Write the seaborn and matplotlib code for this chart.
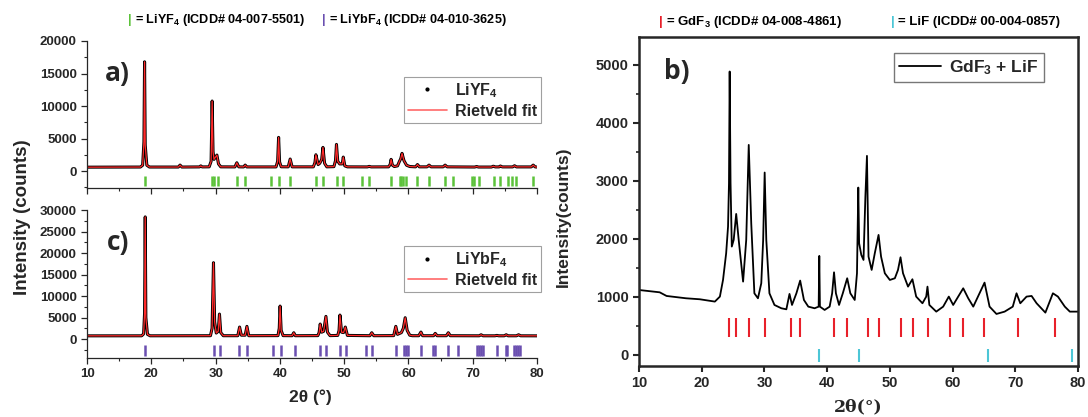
import numpy as np
import pandas as pd
import matplotlib
matplotlib.use("Agg")
import matplotlib.pyplot as plt
from matplotlib.lines import Line2D
from matplotlib.ticker import MultipleLocator
import seaborn as sns

# ---------------- data ----------------
# panel a) LiYF4 profile (2theta, counts)
liyf4_2theta = [10.0, 18.3, 18.65, 18.85, 18.95, 19.05, 19.3, 19.7, 24.2, 24.47, 24.75,
                27.5, 27.7, 27.9, 29.0, 29.3, 29.46, 29.6, 29.75, 30.2, 30.45, 30.8,
                33.0, 33.3, 33.6, 34.35, 34.6, 34.85, 39.4, 39.65, 39.8, 39.95, 40.2,
                41.3, 41.6, 41.9, 45.2, 45.45, 45.6, 45.95, 46.2, 46.5, 46.7, 46.95, 47.3,
                48.4, 48.65, 48.8, 49.0, 49.3, 49.7, 49.86, 50.1, 50.5, 53.6, 53.9, 54.2,
                56.9, 57.15, 57.3, 57.5, 57.8, 58.3, 58.6, 58.8, 59.0, 59.3, 59.7, 60.2,
                61.1, 61.4, 61.7, 62.9, 63.2, 63.5, 65.4, 65.7, 66.0, 70.3, 70.6, 70.9,
                72.9, 73.2, 73.5, 74.1, 74.3, 74.6, 76.2, 76.5, 76.8, 79.1, 79.4, 79.7, 80.0]
liyf4_counts = [600, 620, 900, 4500, 16800, 4000, 900, 620, 620, 920, 620,
                640, 800, 640, 650, 1500, 10770, 3000, 1800, 2460, 1100, 650,
                640, 1280, 650, 640, 920, 640, 640, 1500, 5180, 1400, 660,
                650, 1850, 650, 650, 1300, 2510, 1000, 1200, 1800, 3640, 1200, 650,
                680, 1600, 4100, 1500, 1100, 1100, 2150, 800, 650, 640, 720, 640,
                650, 1000, 1800, 900, 700, 800, 1500, 1900, 2720, 1600, 900, 700,
                650, 1000, 650, 650, 920, 650, 650, 920, 650, 620, 700, 620,
                620, 750, 640, 640, 780, 640, 640, 820, 640, 640, 920, 640, 620]

# panel c) LiYbF4 profile
liybf4_2theta = [10.0, 18.5, 18.8, 18.95, 19.05, 19.15, 19.4, 19.8,
                 29.2, 29.45, 29.67, 29.85, 30.1, 30.4, 30.6, 30.8, 31.2,
                 33.45, 33.73, 34.0, 34.6, 34.87, 35.15,
                 39.7, 39.9, 40.03, 40.2, 40.5, 41.9, 42.16, 42.4,
                 45.9, 46.1, 46.27, 46.5, 46.8, 47.16, 47.4, 47.8,
                 49.0, 49.2, 49.34, 49.6, 49.9, 50.18, 50.5, 54.0, 54.29, 54.6,
                 57.7, 58.03, 58.3, 58.9, 59.2, 59.49, 59.8, 60.2, 60.6,
                 61.6, 61.94, 62.2, 63.9, 64.17, 64.45, 65.9, 66.2, 66.5,
                 71.0, 71.3, 71.6, 73.45, 73.75, 74.05, 74.9, 75.2, 75.5,
                 76.8, 77.13, 77.45, 80.0]
liybf4_counts = [750, 760, 1200, 6000, 28400, 5000, 1100, 760,
                 780, 2500, 17750, 4000, 1400, 1800, 5810, 1500, 780,
                 780, 2790, 900, 900, 2950, 780,
                 800, 2500, 7670, 2000, 800, 780, 1470, 780,
                 800, 1500, 3490, 1600, 1800, 5270, 1600, 800,
                 850, 2000, 5580, 1600, 1500, 2790, 850, 780, 1470, 780,
                 800, 2950, 1100, 1500, 2500, 4960, 2000, 900, 780,
                 780, 1630, 780, 780, 1320, 780, 780, 1470, 780,
                 760, 1000, 760, 760, 850, 760, 760, 1000, 760,
                 760, 1000, 760, 750]

# panel b) GdF3 + LiF trace
gdf3_2theta = [10.0, 13.3, 14.4, 17.5, 19.7, 22.1, 22.9, 23.4, 23.9, 24.2, 24.35, 24.46,
               24.6, 24.8, 25.1, 25.5, 25.9, 26.6, 27.1, 27.5, 27.9, 28.4, 28.97,
               29.5, 29.8, 30.04, 30.3, 30.8, 31.6, 32.7, 33.5, 34.0, 34.4, 35.1,
               35.7, 36.3, 37.0, 38.0, 38.65, 38.75, 38.85, 39.6, 40.4, 40.8, 41.1,
               41.4, 41.9, 42.5, 43.2, 43.7, 44.4, 44.76, 44.97, 45.1, 45.45, 45.8,
               46.1, 46.35, 46.6, 47.1, 47.6, 48.2, 48.6, 49.2, 50.0, 50.8, 51.3,
               51.7, 52.1, 52.9, 53.6, 54.2, 55.2, 55.8, 56.0, 56.3, 57.4, 58.5,
               59.4, 60.1, 60.9, 61.7, 62.5, 63.3, 64.3, 65.1, 65.9, 67.0, 68.3,
               69.6, 70.2, 70.8, 71.8, 72.6, 73.4, 74.8, 76.0, 76.8, 77.9, 78.7, 80.0]
gdf3_counts = [1120, 1080, 1017, 977, 960, 920, 1006, 1293, 1753, 2213, 2960, 4885,
               2960, 1868, 1983, 2431, 1983, 1264, 1983, 3620, 2270, 1063, 977,
               1236, 1983, 3144, 1983, 1063, 862, 805, 787, 1052, 862, 1063,
               1282, 948, 833, 805, 833, 1707, 833, 776, 833, 1063, 1425,
               1063, 862, 1063, 1322, 1063, 948, 1408, 2885, 1925, 1724, 1638,
               2730, 3431, 1695, 1466, 1753, 2069, 1695, 1408, 1293, 1322, 1466,
               1684, 1408, 1178, 1305, 1006, 891, 1006, 1178, 862, 747, 833,
               1006, 862, 1006, 1149, 977, 833, 1063, 1247, 833, 707, 747,
               833, 1063, 891, 1006, 1017, 891, 730, 1063, 1006, 833, 747, 747]

# reference (ICDD) line positions
liyf4_ref = [18.95, 29.46, 29.72, 30.35, 33.32, 34.62, 38.62, 39.82, 41.64, 45.65, 46.74,
             48.82, 49.86, 52.83, 53.87, 57.31, 58.61, 58.82, 59.08, 59.54, 61.37, 63.19,
             65.68, 66.99, 69.95, 70.27, 70.94, 73.23, 74.17, 75.47, 76.04, 76.67, 79.37]
liybf4_ref = [19.07, 29.75, 30.64, 33.70, 34.87, 38.93, 40.16, 42.33, 46.22, 47.17, 49.39,
              50.23, 53.34, 54.29, 58.02, 59.30, 59.69, 59.97, 61.91, 63.80, 64.19, 66.09,
              67.64, 70.70, 70.98, 71.26, 71.54, 73.71, 75.10, 75.38, 76.38, 76.71, 77.05, 77.38]
gdf3_ref = [24.35, 25.53, 27.53, 30.06, 34.21, 35.72, 41.17, 43.22, 46.46, 48.24, 51.80,
            53.74, 56.11, 59.56, 61.72, 64.95, 70.40, 76.28]
lif_ref = [38.74, 45.05, 65.60, 78.97]

# ---------------- style ----------------
sns.set_style("ticks")
plt.rcParams['font.family'] = ['Liberation Sans', 'DejaVu Sans']
plt.rcParams['mathtext.fontset'] = 'custom'
plt.rcParams['mathtext.rm'] = 'Liberation Sans:bold'
plt.rcParams['mathtext.bf'] = 'Liberation Sans:bold'
plt.rcParams['mathtext.it'] = 'Liberation Sans:bold'

GREEN = '#5cc23a'
PURPLE = '#6a4fb0'
RED = '#e8202a'
CYAN = '#4cc6d6'
FITRED = '#ff2a2a'

fig = plt.figure(figsize=(10.88, 4.17), dpi=100)
ax_a = fig.add_axes([0.080, 0.5492, 0.4136, 0.3525])
ax_c = fig.add_axes([0.080, 0.1415, 0.4136, 0.3549])
ax_b = fig.add_axes([0.5873, 0.1223, 0.4035, 0.789])


def left_panel(ax, xs, ys, ref, refcol, ylim, ymax_tick, label, letter, show_x):
    sns.lineplot(x=xs, y=ys, ax=ax, color='black', lw=2.2, sort=False, estimator=None)
    sns.lineplot(x=xs, y=ys, ax=ax, color=FITRED, lw=0.9, sort=False, estimator=None)
    ax.vlines(ref, ylim[0] * 0.3, ylim[0] * 0.9, colors=refcol, lw=1.8)
    ax.set_xlim(10, 80)
    ax.set_ylim(*ylim)
    ax.xaxis.set_major_locator(MultipleLocator(10))
    ax.xaxis.set_minor_locator(MultipleLocator(5))
    ax.set_yticks(np.arange(0, ymax_tick + 1, 5000))
    ax.yaxis.set_minor_locator(MultipleLocator(2500))
    for s in ['top', 'right']:
        ax.spines[s].set_visible(False)
    for s in ['left', 'bottom']:
        ax.spines[s].set_linewidth(0.9)
    ax.tick_params(axis='both', which='major', direction='out', length=4, width=0.9,
                   labelsize=9.5)
    ax.tick_params(axis='both', which='minor', direction='out', length=2.5, width=0.8)
    for t in ax.get_yticklabels() + ax.get_xticklabels():
        t.set_fontweight('bold')
    if not show_x:
        ax.set_xticklabels([])
    ax.set_xlabel('')
    ax.set_ylabel('')
    handles = [Line2D([], [], color='black', marker='.', ms=4, lw=0),
               Line2D([], [], color=FITRED, lw=1.2, alpha=0.7)]
    leg = ax.legend(handles, [label, 'Rietveld fit'], loc='upper right',
                    bbox_to_anchor=(1.008, 0.755), frameon=True, fancybox=False,
                    edgecolor='#888888', prop={'weight': 'bold', 'size': 11.5},
                    handlelength=2.4, borderpad=0.25, labelspacing=0.25, handletextpad=0.5,
                    borderaxespad=0.0)
    leg.get_frame().set_linewidth(0.8)
    ax.text(0.068, 0.78, letter, transform=ax.transAxes, fontsize=19, fontweight='bold',
            family=['Open Sans', 'DejaVu Sans'], ha='center', va='center', color='#262626')


left_panel(ax_a, liyf4_2theta, liyf4_counts, liyf4_ref, GREEN, (-2600, 20000), 20000,
           'LiYF$_4$', 'a)', False)
left_panel(ax_c, liybf4_2theta, liybf4_counts, liybf4_ref, PURPLE, (-4400, 30000), 30000,
           'LiYbF$_4$', 'c)', True)

# panel b
sns.lineplot(x=gdf3_2theta, y=gdf3_counts, ax=ax_b, color='black', lw=1.3, sort=False,
             estimator=None, label='GdF$_3$ + LiF')
ax_b.vlines(gdf3_ref, 310, 640, colors=RED, lw=1.5)
ax_b.vlines(lif_ref, -120, 100, colors=CYAN, lw=1.5)
ax_b.set_xlim(10, 80)
ax_b.set_ylim(-190, 5480)
ax_b.set_xticks(np.arange(10, 81, 10))
ax_b.set_yticks(np.arange(0, 5001, 1000))
ax_b.yaxis.set_minor_locator(MultipleLocator(500))
for s in ax_b.spines.values():
    s.set_linewidth(1.8)
ax_b.tick_params(axis='both', which='major', direction='out', length=4, width=1.5,
                 labelsize=10.5)
ax_b.tick_params(axis='y', which='minor', direction='out', length=2.5, width=1.2)
for t in ax_b.get_yticklabels() + ax_b.get_xticklabels():
    t.set_fontweight('bold')
ax_b.set_xlabel('')
ax_b.set_ylabel('')
legb = ax_b.legend(loc='upper right', bbox_to_anchor=(0.922, 0.952), frameon=True,
                   fancybox=False, edgecolor='#555555', prop={'weight': 'bold', 'size': 12.5},
                   handlelength=2.4, borderpad=0.3, handletextpad=0.5, borderaxespad=0.0)
legb.get_frame().set_linewidth(1.0)
ax_b.text(0.087, 0.895, 'b)', transform=ax_b.transAxes, fontsize=19, fontweight='bold',
          family=['Open Sans', 'DejaVu Sans'], ha='center', va='center', color='#262626')

# axis titles
fig.text(0.021, 0.48, 'Intensity (counts)', rotation=90, ha='center', va='center',
         fontsize=13.5, fontweight='bold')
fig.text(0.285, 0.048, '2θ (°)', ha='center', va='center', fontsize=12.5, fontweight='bold')
fig.text(0.518, 0.48, 'Intensity(counts)', rotation=90, ha='center', va='center',
         fontsize=12.5, fontweight='bold')
fig.text(0.789, 0.024, '2θ(°)', ha='center', va='center', fontsize=12.5, fontweight='bold',
         family=['DejaVu Serif', 'DejaVu Sans'])

# reference-pattern keys at the top
def key(x, y, col, txt, size):
    fig.text(x, y, '|', color=col, fontsize=size, fontweight='bold', ha='left', va='center')
    fig.text(x + 0.0065, y, '= ' + txt, color='black', fontsize=size, fontweight='bold',
             ha='left', va='center')

key(0.1175, 0.952, GREEN, 'LiYF$_4$ (ICDD# 04-007-5501)', 9.1)
key(0.2955, 0.952, PURPLE, 'LiYbF$_4$ (ICDD# 04-010-3625)', 9.1)
key(0.6055, 0.947, RED, 'GdF$_3$ (ICDD# 04-008-4861)', 9.5)
key(0.8185, 0.947, CYAN, 'LiF (ICDD# 00-004-0857)', 9.5)

fig.savefig('out.png', dpi=100)
